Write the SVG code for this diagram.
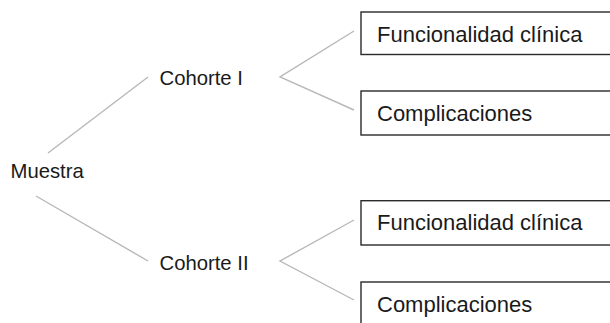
<svg xmlns="http://www.w3.org/2000/svg" width="610" height="323" viewBox="0 0 610 323">
<style>
.t{font-family:"Liberation Sans",Arial,sans-serif;fill:#1a1a1a}
.s{font-size:20.3px}
.b{font-size:22px}
.box{fill:#fff;stroke:#2a2a2a;stroke-width:1.4}
.c{stroke:#b8b8b8;stroke-width:1.4;fill:none}
</style>
<rect width="610" height="323" fill="#fff"/>
<g id="connectors">
<line class="c" x1="48" y1="153" x2="148" y2="77"/>
<line class="c" x1="36" y1="196" x2="148" y2="261"/>
<polyline class="c" points="354,31 280,77 354,110"/>
<polyline class="c" points="354,220 280,261 354,300"/>
</g>
<g id="muestra"><text class="t s" x="10.5" y="177.7">Muestra</text></g>
<g id="cohorte1"><text class="t s" x="159.5" y="85">Cohorte I</text></g>
<g id="cohorte2"><text class="t s" x="159.5" y="270">Cohorte II</text></g>
<g id="func1"><rect class="box" x="361" y="12" width="260" height="42.5"/><text class="t b" x="377" y="41.7">Funcionalidad clínica</text></g>
<g id="comp1"><rect class="box" x="361" y="91" width="260" height="44"/><text class="t b" x="377" y="120.5">Complicaciones</text></g>
<g id="func2"><rect class="box" x="361" y="200.7" width="260" height="44.3"/><text class="t b" x="377" y="230">Funcionalidad clínica</text></g>
<g id="comp2"><rect class="box" x="361" y="282" width="260" height="60"/><text class="t b" x="377" y="311.5">Complicaciones</text></g>
</svg>
